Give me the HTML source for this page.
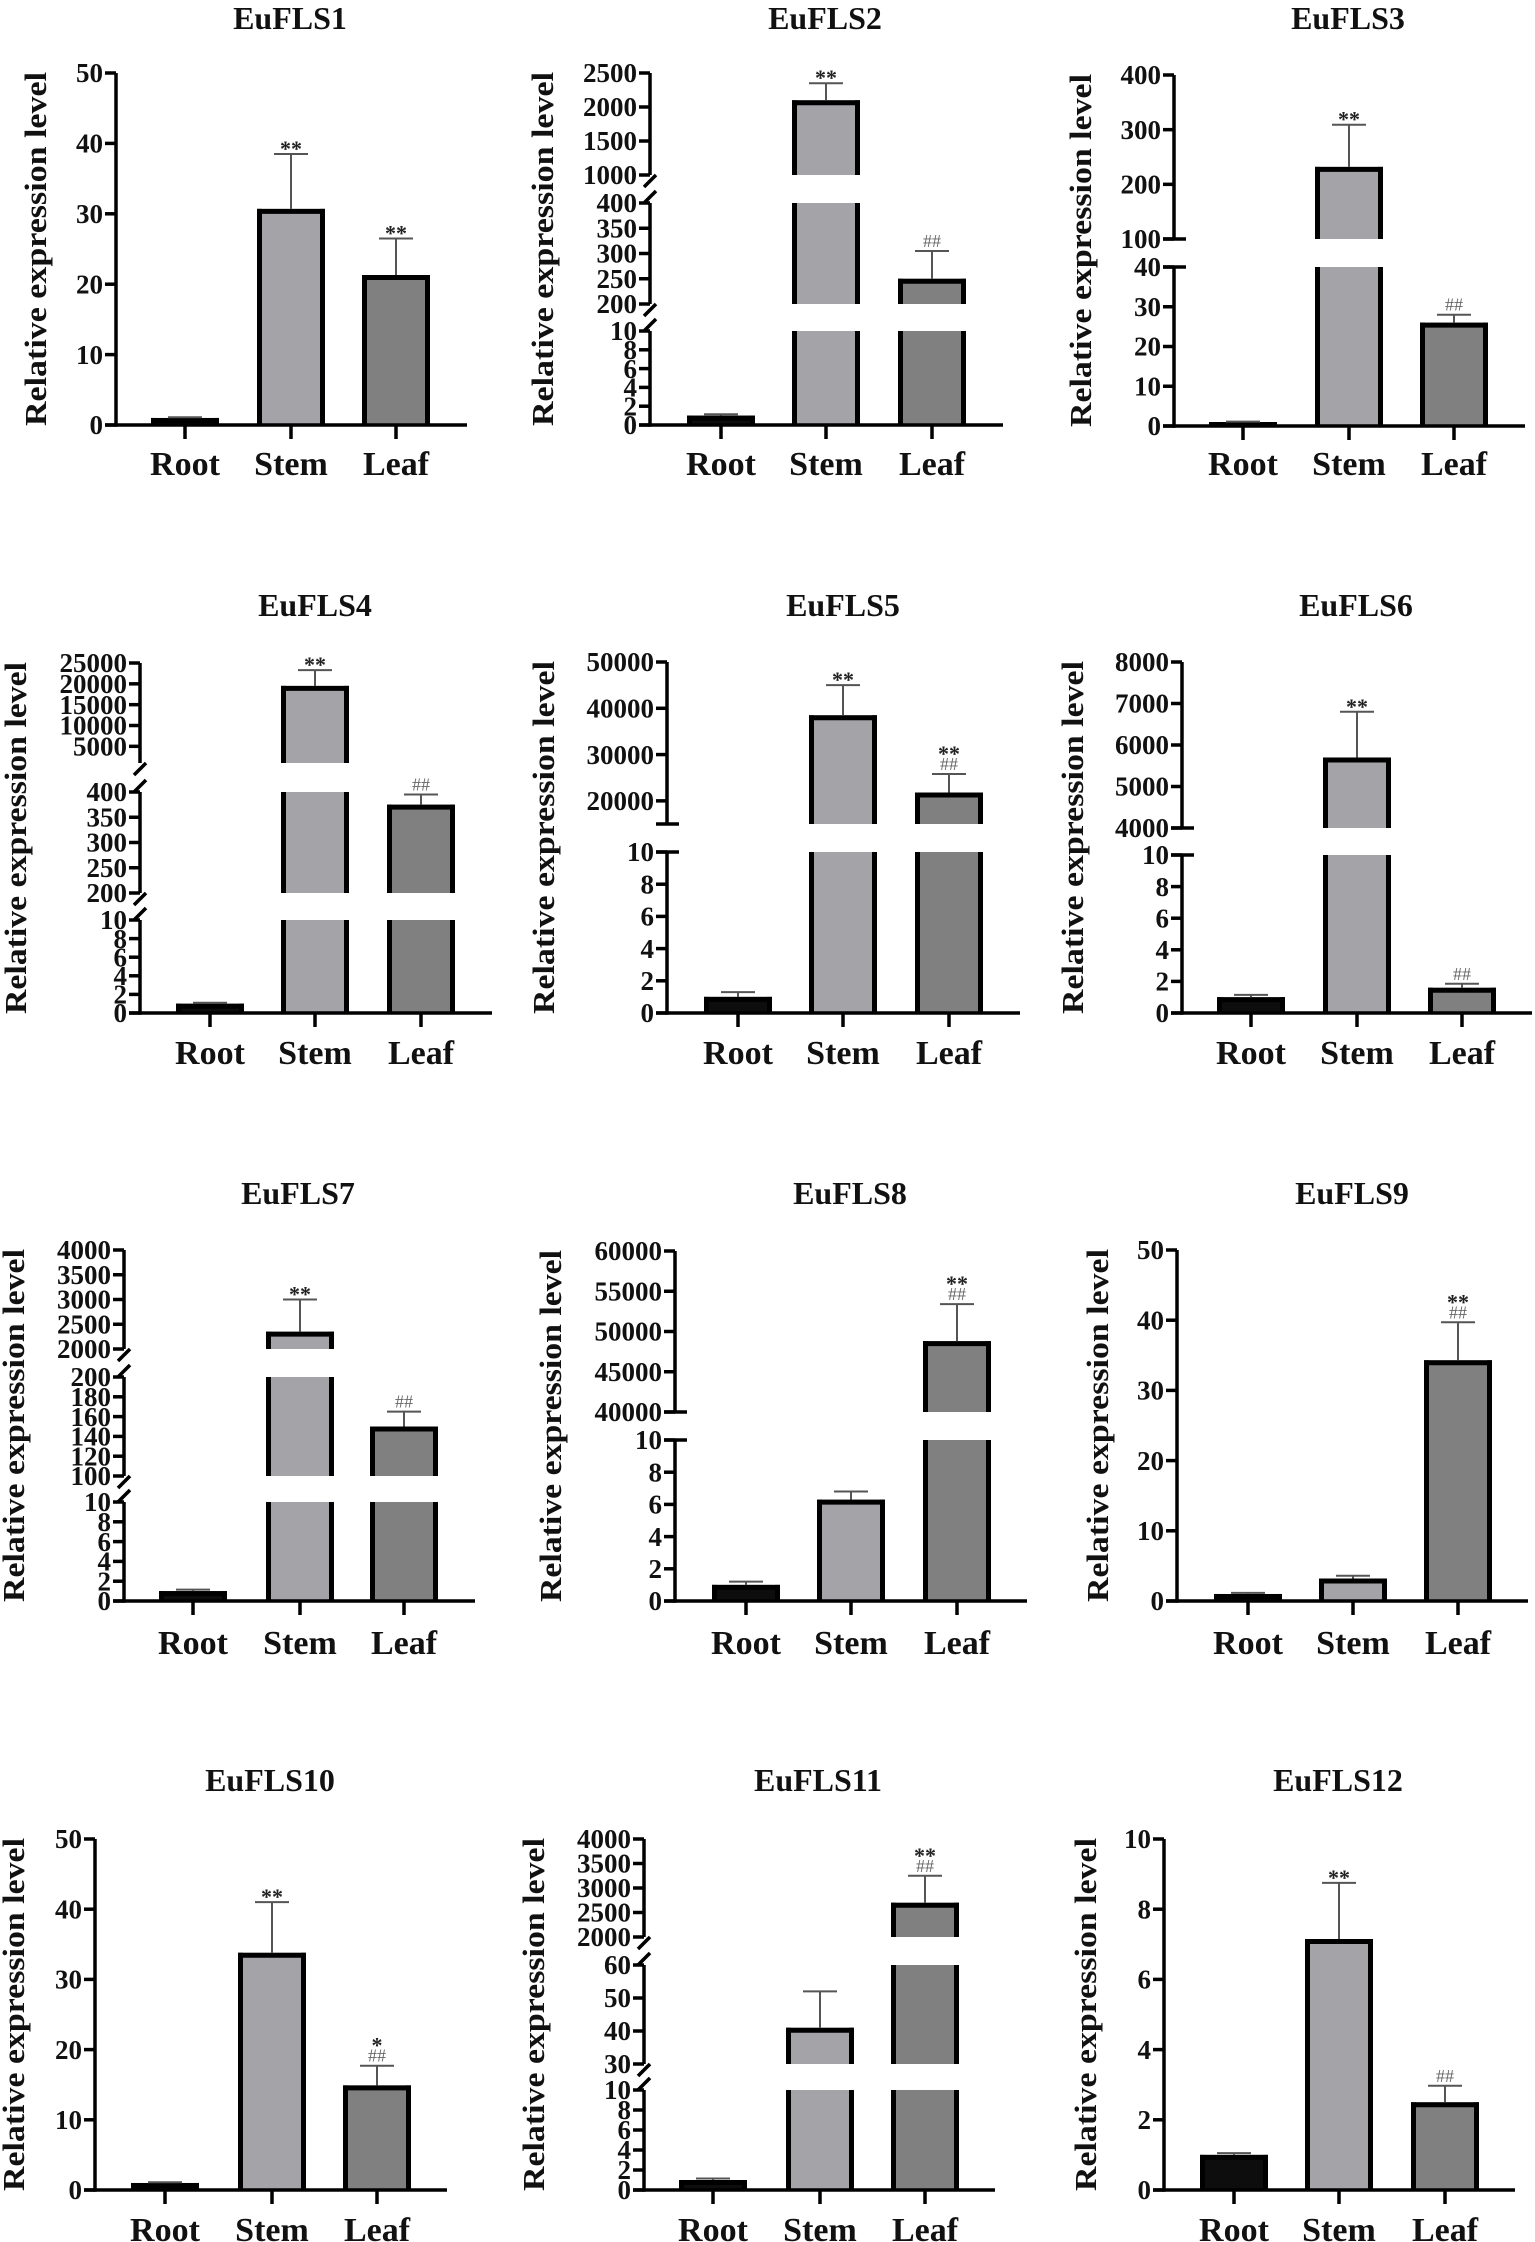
<!DOCTYPE html>
<html><head><meta charset="utf-8">
<style>
html,body{margin:0;padding:0;background:#fff;}
svg{display:block;}
text{font-family:"Liberation Serif","DejaVu Serif",serif;font-weight:bold;fill:#111;}
</style></head>
<body>
<svg id="fig" width="1535" height="2242" viewBox="0 0 1535 2242" xmlns="http://www.w3.org/2000/svg"></svg>
<script>
// ---- data ----
const categories = ['Root','Stem','Leaf'];
const genes = ['EuFLS1','EuFLS2','EuFLS3','EuFLS4','EuFLS5','EuFLS6','EuFLS7','EuFLS8','EuFLS9','EuFLS10','EuFLS11','EuFLS12'];
const rootMeans = [1, 1, 1, 1, 1, 1, 1, 1, 1, 1, 1, 1];
const stemMeans = [30.7, 2100, 232, 19500, 38500, 5700, 2350, 6.3, 3.2, 33.8, 41, 7.15];
const leafMeans = [21.3, 250, 26, 375, 21800, 1.6, 150, 48800, 34.3, 14.9, 2700, 2.5];
const rootErr = [0.1, 0.15, 0.1, 0.1, 0.3, 0.15, 0.15, 0.2, 0.15, 0.1, 0.15, 0.05];
const stemErr = [7.8, 250, 77, 3800, 6500, 1100, 650, 0.5, 0.4, 7.2, 11, 1.6];
const leafErr = [5.2, 55, 2, 20, 4000, 0.25, 15, 4600, 5.4, 2.8, 550, 0.47];
const stemStars = ['**','**','**','**','**','**','**','','','**','','**'];
const leafStars = ['**','','','','**','','','**','**','*','**',''];
const leafHash  = ['','##','##','##','##','##','##','##','##','##','##','##'];
// axis segments: value ranges and tick labels per panel
const segRanges = [
  [[0,50]],
  [[0,10],[200,400],[1000,2500]],
  [[0,40],[100,400]],
  [[0,10],[200,400],[1000,25000]],
  [[0,10],[15000,50000]],
  [[0,10],[4000,8000]],
  [[0,10],[100,200],[2000,4000]],
  [[0,10],[40000,60000]],
  [[0,50]],
  [[0,50]],
  [[0,10],[30,60],[2000,4000]],
  [[0,10]]
];
const segTicks = [
  [[0,10,20,30,40,50]],
  [[0,2,4,6,8,10],[200,250,300,350,400],[1000,1500,2000,2500]],
  [[0,10,20,30,40],[100,200,300,400]],
  [[0,2,4,6,8,10],[200,250,300,350,400],[5000,10000,15000,20000,25000]],
  [[0,2,4,6,8,10],[20000,30000,40000,50000]],
  [[0,2,4,6,8,10],[4000,5000,6000,7000,8000]],
  [[0,2,4,6,8,10],[100,120,140,160,180,200],[2000,2500,3000,3500,4000]],
  [[0,2,4,6,8,10],[40000,45000,50000,55000,60000]],
  [[0,10,20,30,40,50]],
  [[0,10,20,30,40,50]],
  [[0,2,4,6,8,10],[30,40,50,60],[2000,2500,3000,3500,4000]],
  [[0,2,4,6,8,10]]
];

// ---- layout ----
const layout = [
  {ax:116, cx:[185,291,396], xe:467, seg:[[425,73]], brk:'none', lx:35, tx:290, ty:29, xly:475, fs:27},
  {ax:650, cx:[721,826,932], xe:1003, seg:[[425,331],[304,203],[175,73]], brk:'slash', lx:542, tx:825, ty:29, xly:475, fs:27},
  {ax:1174, cx:[1243,1349,1454], xe:1525, seg:[[426,267],[239,75]], brk:'cap', lx:1080, tx:1348, ty:29, xly:475, fs:27},
  {ax:140, cx:[210,315,421], xe:492, seg:[[1013,920],[893,792],[763,663]], brk:'slash', lx:15, tx:315, ty:616, xly:1064, fs:27},
  {ax:667, cx:[738,843,949], xe:1020, seg:[[1013,852],[824,662]], brk:'cap', lx:543, tx:843, ty:616, xly:1064, fs:27},
  {ax:1182, cx:[1251,1357,1462], xe:1532, seg:[[1013,855],[828,662]], brk:'cap', lx:1072, tx:1356, ty:616, xly:1064, fs:27},
  {ax:124, cx:[193,300,404], xe:475, seg:[[1601,1502],[1476,1377],[1349,1250]], brk:'slash', lx:13, tx:298, ty:1204, xly:1654, fs:27},
  {ax:675, cx:[746,851,957], xe:1027, seg:[[1601,1440],[1412,1251]], brk:'cap', lx:550, tx:850, ty:1204, xly:1654, fs:27},
  {ax:1177, cx:[1248,1353,1458], xe:1528, seg:[[1601,1250]], brk:'none', lx:1097, tx:1352, ty:1204, xly:1654, fs:27},
  {ax:95, cx:[165,272,377], xe:447, seg:[[2190,1839]], brk:'none', lx:13, tx:270, ty:1791, xly:2241, fs:27},
  {ax:644, cx:[713,820,925], xe:995, seg:[[2190,2090],[2064,1965],[1937,1839]], brk:'slash', lx:533, tx:818, ty:1791, xly:2241, fs:27},
  {ax:1164, cx:[1234,1339,1445], xe:1515, seg:[[2190,1839]], brk:'none', lx:1085, tx:1338, ty:1791, xly:2241, fs:27}
];
const fills = ['#0d0d0d','#a3a3a8','#808080'];
const NS = 'http://www.w3.org/2000/svg';
const svg = document.getElementById('fig');
function mk(tag, attrs, parent){ const e=document.createElementNS(NS,tag); for(const k in attrs) e.setAttribute(k,attrs[k]); (parent||svg).appendChild(e); return e; }

function yScale(p, v){
  const R = segRanges[p], S = layout[p].seg;
  for(let i=0;i<R.length;i++){
    if(v>=R[i][0] && v<=R[i][1]) return S[i][0] + (v-R[i][0])/(R[i][1]-R[i][0])*(S[i][1]-S[i][0]);
  }
  return null;
}

for(let p=0;p<12;p++){
  const L = layout[p];
  const g = mk('g',{});
  
  
  const y0 = L.seg[0][0], yTop = L.seg[L.seg.length-1][1];
  const t = mk('text',{x:L.tx,y:L.ty,'text-anchor':'middle','font-size':32},g);
  t.textContent = genes[p];
  
  
  const yl = mk('text',{x:0,y:0,'text-anchor':'middle','font-size':31,transform:`translate(${L.lx+11},${(y0+yTop)/2}) rotate(-90)`,textLength:(y0-yTop+2),lengthAdjust:'spacingAndGlyphs'},g);
  yl.textContent = 'Relative expression level';
  
  
  const means = [rootMeans[p], stemMeans[p], leafMeans[p]];
  const errs = [rootErr[p], stemErr[p], leafErr[p]];
  const bw = 68;
  for(let c=0;c<3;c++){
    const val = means[c], cx = L.cx[c];
    const bg = mk('g',{},g);
    
    
    const R = segRanges[p];
    for(let s=0;s<R.length;s++){
      if(val <= R[s][0] && s>0) continue;
      const top = Math.min(val, R[s][1]);
      const yb = L.seg[s][0];
      const yt = yScale(p, top);
      mk('rect',{x:cx-bw/2,y:yt,width:bw,height:Math.max(0,yb-yt),fill:fills[c]},bg);
      mk('line',{x1:cx-bw/2+2.5,y1:yb,x2:cx-bw/2+2.5,y2:yt,stroke:'#000','stroke-width':5},bg);
      mk('line',{x1:cx+bw/2-2.5,y1:yb,x2:cx+bw/2-2.5,y2:yt,stroke:'#000','stroke-width':5},bg);
      if(val <= R[s][1]) mk('line',{x1:cx-bw/2,y1:yt+2.5,x2:cx+bw/2,y2:yt+2.5,stroke:'#000','stroke-width':5},bg);
    }
    const ye = yScale(p, val + errs[c]);
    const yv = yScale(p, val);
    if(ye!==null && yv!==null){
      const eb = mk('g',{},g);
      
      
      mk('line',{x1:cx,y1:yv,x2:cx,y2:ye,stroke:'#555','stroke-width':2},eb);
      mk('line',{x1:cx-17,y1:ye,x2:cx+17,y2:ye,stroke:'#555','stroke-width':2},eb);
      let ay = ye - 4;
      const hash = c===2 ? leafHash[p] : '';
      const star = c===1 ? stemStars[p] : (c===2 ? leafStars[p] : '');
      if(hash){
        const h = mk('text',{x:cx,y:ay,'text-anchor':'middle','font-size':18,style:'fill:#666;font-weight:normal'},g);
        h.textContent = hash;
        
        
        ay -= 15;
      }
      if(star){
        const st = mk('text',{x:cx,y:ay+6,'text-anchor':'middle','font-size':22,style:'fill:#222;font-weight:bold'},g);
        st.textContent = star;
        
        
      }
    }
    mk('line',{x1:cx,y1:y0,x2:cx,y2:y0+14,stroke:'#000','stroke-width':3.5},g);
    const xl = mk('text',{x:cx,y:L.xly,'text-anchor':'middle','font-size':34},g);
    xl.textContent = categories[c];
    
    
  }
  const axg = mk('g',{},g);
  
  
  const R = segRanges[p];
  for(let s=0;s<R.length;s++){
    const yb = L.seg[s][0], yt = L.seg[s][1];
    mk('line',{x1:L.ax,y1:yb+(s===0?1.75:0),x2:L.ax,y2:yt,stroke:'#000','stroke-width':3.5},axg);
    segTicks[p][s].forEach(v=>{
      const y = yScale(p, v);
      mk('line',{x1:L.ax-11,y1:y,x2:L.ax,y2:y,stroke:'#000','stroke-width':3.5},axg);
      const tl = mk('text',{x:L.ax-13,y:y+L.fs*0.34,'text-anchor':'end','font-size':L.fs},axg);
      tl.textContent = v;
      
      
    });
    if(L.brk==='cap'){
      if(s>0) mk('line',{x1:L.ax-11,y1:yb,x2:L.ax+12,y2:yb,stroke:'#000','stroke-width':3.5},axg);
      if(s<R.length-1) mk('line',{x1:L.ax-11,y1:yt,x2:L.ax+12,y2:yt,stroke:'#000','stroke-width':3.5},axg);
    }
    if(L.brk==='slash'){
      if(s>0) mk('line',{x1:L.ax-6,y1:yb+12,x2:L.ax+6,y2:yb,stroke:'#000','stroke-width':3.5},axg);
      if(s<R.length-1) mk('line',{x1:L.ax-6,y1:yt,x2:L.ax+6,y2:yt-12,stroke:'#000','stroke-width':3.5},axg);
    }
  }
  const xa = mk('line',{x1:L.ax-11,y1:y0,x2:L.xe,y2:y0,stroke:'#000','stroke-width':3.5},g);
  
  
}
</script>
</body></html>
